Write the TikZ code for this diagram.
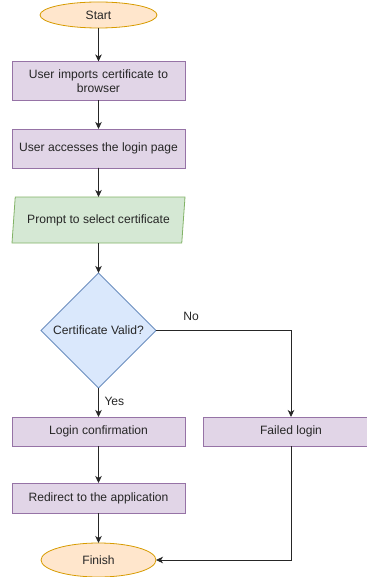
\documentclass[tikz,border=0pt]{standalone}
\usepackage{fontspec}
\setmainfont{Liberation Sans}
\usetikzlibrary{shapes.geometric,arrows.meta}
\definecolor{orfill}{HTML}{FFE6CC}
\definecolor{ordraw}{HTML}{D79B00}
\definecolor{pufill}{HTML}{E1D5E7}
\definecolor{pudraw}{HTML}{9673A6}
\definecolor{grfill}{HTML}{D5E8D4}
\definecolor{grdraw}{HTML}{82B366}
\definecolor{blfill}{HTML}{DAE8FC}
\definecolor{bldraw}{HTML}{6C8EBF}
\begin{document}
\begin{tikzpicture}[x=1pt,y=-1pt,
  every node/.style={font=\fontsize{12.1}{14.5}\selectfont, text=black!85, inner sep=0pt, outer sep=0pt},
  term/.style={ellipse, draw=ordraw, fill=orfill, line width=0.8pt},
  procbox/.style={rectangle, draw=pudraw, fill=pufill, line width=0.8pt, align=center},
  iobox/.style={trapezium, trapezium left angle=74, trapezium right angle=106, draw=grdraw, fill=grfill, line width=0.8pt},
  decide/.style={diamond, draw=bldraw, fill=blfill, line width=0.8pt, aspect=1},
  conn/.style={draw=black!85, line width=0.8pt, -{Stealth[length=7pt,width=6.5pt,inset=2pt]}},
  lbl/.style={font=\fontsize{12.1}{14.5}\selectfont}]
\useasboundingbox (0,0) rectangle (366,577);
\node[term, minimum width=117pt, minimum height=26pt] (start) at (98.5,15) {Start};
\node[procbox, minimum width=173pt, minimum height=39pt, text width=165pt] (imp) at (98.5,81) {User imports certificate to\\browser};
\node[procbox, minimum width=173pt, minimum height=39pt] (acc) at (98.5,148.5) {User accesses the login page};
\node[iobox, minimum width=173pt, minimum height=46pt, trapezium stretches body] (prompt) at (98.5,220) {Prompt to select certificate};
\node[decide, minimum width=115pt, minimum height=115pt] (valid) at (98.5,330.5) {Certificate Valid?};
\node[procbox, minimum width=173pt, minimum height=29pt] (conf) at (98.5,431.5) {Login confirmation};
\node[procbox, minimum width=176pt, minimum height=29pt] (fail) at (291,431.5) {Failed login};
\node[procbox, minimum width=173pt, minimum height=30pt] (redir) at (98.5,498) {Redirect to the application};
\node[term, minimum width=115pt, minimum height=34pt] (finish) at (98.5,560) {Finish};
\coordinate (c1) at (291,330.5);
\coordinate (c2) at (291,560);
\path[conn] (start) -- (imp);
\path[conn] (imp) -- (acc);
\path[conn] (acc) -- (prompt);
\path[conn] (prompt) -- (valid);
\path[conn] (valid) -- node[lbl, right=6pt, pos=0.45] {Yes} (conf);
\path[conn] (valid.east) -- (c1) -- (fail.north);
\node[lbl] (no) at (191,316) {No};
\path[conn] (conf) -- (redir);
\path[conn] (redir) -- (finish);
\path[conn] (fail.south) -- (c2) -- (finish.east);
\end{tikzpicture}
\end{document}
